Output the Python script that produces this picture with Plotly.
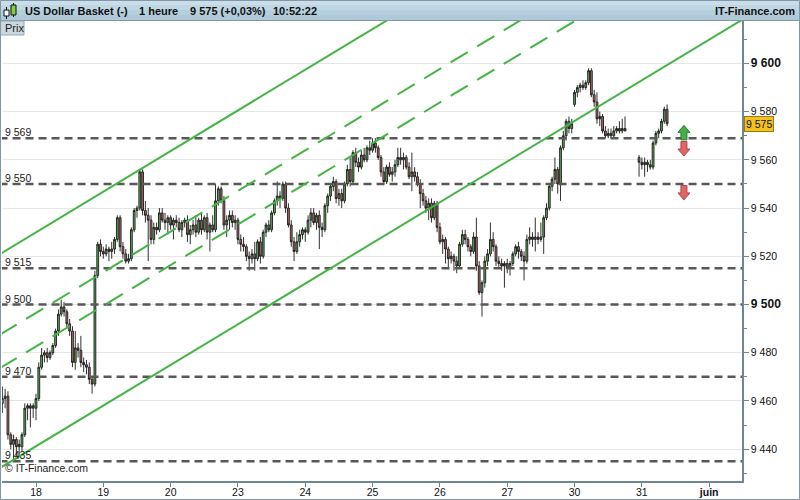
import plotly.graph_objects as go

# ---------------- data ----------------
# bar number = hours since 18 May 00:00 (weekends removed); hours 211-214 have no quotes
bars = [i for i in range(-12, 226) if not (211 <= i <= 214)]

open_ = [
    9459, 9461, 9462, 9446, 9442, 9444, 9441, 9441, 9446, 9457, 9458, 9457,
    9457, 9461, 9474, 9479, 9480, 9478, 9480, 9483, 9489, 9496, 9499, 9497,
    9492, 9489, 9476, 9482, 9481, 9476, 9475, 9474, 9469, 9467, 9512, 9525,
    9522, 9521, 9523, 9522, 9523, 9527, 9536, 9524, 9521, 9518, 9519, 9531,
    9539, 9540, 9555, 9539, 9537, 9535, 9527, 9532, 9531, 9538, 9535, 9534,
    9536, 9533, 9535, 9534, 9531, 9534, 9535, 9529, 9531, 9533, 9530, 9535,
    9531, 9536, 9530, 9533, 9531, 9543, 9548, 9543, 9533, 9535, 9537, 9534,
    9535, 9527, 9525, 9524, 9520, 9519, 9521, 9519, 9526, 9520, 9530, 9533,
    9531, 9538, 9543, 9545, 9544, 9550, 9540, 9533, 9526, 9522, 9526, 9529,
    9531, 9530, 9535, 9538, 9534, 9537, 9532, 9531, 9541, 9545, 9549, 9551,
    9544, 9546, 9543, 9550, 9556, 9551, 9563, 9559, 9557, 9562, 9560, 9565,
    9564, 9567, 9565, 9561, 9555, 9551, 9557, 9554, 9555, 9558, 9561, 9560,
    9561, 9557, 9553, 9555, 9553, 9550, 9546, 9543, 9540, 9542, 9536, 9542,
    9532, 9526, 9527, 9523, 9519, 9520, 9518, 9516, 9525, 9529, 9527, 9524,
    9522, 9528, 9516, 9505, 9509, 9518, 9521, 9527, 9524, 9518, 9517, 9516,
    9517, 9515, 9517, 9521, 9524, 9522, 9520, 9518, 9527, 9528, 9527, 9528,
    9527, 9528, 9536, 9540, 9549, 9552, 9556, 9550, 9565, 9570, 9576, 9573,
    9583, 9588, 9590, 9591, 9590, 9592, 9597, 9587, 9584, 9577, 9578, 9572,
    9570, 9571, 9570, 9572, 9573, 9572, 9573,
    9561, 9559, 9558, 9559, 9558, 9557, 9567, 9571, 9572, 9576, 9581,
]
high = [
    9466, 9465, 9464, 9447, 9446, 9445, 9444, 9447, 9459, 9459, 9459, 9459,
    9463, 9476, 9482, 9481, 9482, 9481, 9484, 9490, 9498, 9502, 9501, 9498,
    9494, 9491, 9489, 9484, 9487, 9478, 9477, 9476, 9470, 9514, 9526, 9527,
    9524, 9525, 9524, 9526, 9528, 9537, 9537, 9526, 9523, 9521, 9532, 9540,
    9541, 9556, 9556, 9543, 9540, 9537, 9534, 9534, 9540, 9540, 9538, 9537,
    9537, 9536, 9537, 9536, 9535, 9536, 9537, 9533, 9535, 9537, 9536, 9538,
    9537, 9538, 9534, 9537, 9550, 9549, 9549, 9545, 9537, 9539, 9539, 9537,
    9536, 9529, 9528, 9525, 9522, 9523, 9526, 9527, 9528, 9531, 9534, 9535,
    9539, 9544, 9551, 9547, 9551, 9551, 9542, 9535, 9528, 9530, 9531, 9532,
    9532, 9537, 9540, 9540, 9538, 9539, 9534, 9542, 9546, 9550, 9553, 9552,
    9548, 9548, 9551, 9558, 9561, 9564, 9565, 9561, 9564, 9565, 9566, 9568,
    9569, 9569, 9566, 9562, 9557, 9558, 9559, 9557, 9560, 9565, 9565, 9563,
    9562, 9559, 9563, 9557, 9555, 9552, 9548, 9545, 9544, 9544, 9543, 9543,
    9534, 9529, 9528, 9524, 9522, 9521, 9520, 9526, 9531, 9531, 9528, 9525,
    9530, 9536, 9518, 9510, 9520, 9523, 9534, 9530, 9525, 9520, 9519, 9518,
    9519, 9518, 9522, 9525, 9526, 9523, 9522, 9529, 9532, 9530, 9536, 9530,
    9534, 9537, 9542, 9550, 9553, 9561, 9557, 9566, 9572, 9577, 9578, 9577,
    9589, 9591, 9592, 9593, 9593, 9598, 9598, 9589, 9588, 9580, 9579, 9574,
    9573, 9573, 9574, 9574, 9576, 9577, 9578,
    9562, 9561, 9561, 9560, 9560, 9568, 9572, 9573, 9577, 9582, 9583,
]
low = [
    9455, 9457, 9444, 9440, 9436, 9437, 9437, 9439, 9445, 9452, 9449, 9453,
    9452, 9460, 9473, 9476, 9476, 9477, 9479, 9482, 9487, 9495, 9495, 9490,
    9487, 9474, 9473, 9478, 9474, 9472, 9471, 9467, 9463, 9466, 9511, 9520,
    9519, 9520, 9518, 9519, 9521, 9526, 9522, 9519, 9517, 9517, 9518, 9530,
    9536, 9539, 9537, 9534, 9518, 9525, 9525, 9529, 9530, 9534, 9531, 9529,
    9531, 9527, 9532, 9530, 9528, 9532, 9526, 9525, 9529, 9528, 9529, 9529,
    9530, 9527, 9522, 9530, 9530, 9541, 9542, 9531, 9528, 9531, 9532, 9531,
    9525, 9522, 9522, 9518, 9514, 9517, 9514, 9518, 9517, 9519, 9528, 9530,
    9530, 9537, 9541, 9540, 9543, 9538, 9532, 9524, 9518, 9521, 9524, 9527,
    9526, 9529, 9532, 9533, 9531, 9523, 9528, 9530, 9538, 9543, 9547, 9542,
    9541, 9540, 9542, 9549, 9549, 9550, 9557, 9555, 9556, 9559, 9559, 9562,
    9563, 9563, 9560, 9553, 9550, 9550, 9553, 9551, 9553, 9557, 9558, 9556,
    9556, 9552, 9547, 9551, 9549, 9540, 9541, 9538, 9535, 9534, 9535, 9530,
    9525, 9521, 9517, 9515, 9517, 9514, 9513, 9515, 9524, 9525, 9522, 9520,
    9521, 9514, 9504, 9495, 9507, 9516, 9520, 9522, 9516, 9515, 9514, 9507,
    9513, 9512, 9516, 9520, 9519, 9518, 9510, 9517, 9525, 9524, 9522, 9525,
    9526, 9521, 9535, 9539, 9547, 9550, 9546, 9543, 9564, 9568, 9571, 9571,
    9582, 9586, 9588, 9589, 9589, 9591, 9586, 9582, 9575, 9574, 9571, 9569,
    9569, 9569, 9569, 9571, 9571, 9571, 9572,
    9553, 9556, 9553, 9555, 9556, 9556, 9566, 9569, 9571, 9575, 9574,
]
close = [
    9461, 9462, 9446, 9442, 9444, 9441, 9442, 9446, 9457, 9458, 9457, 9458,
    9461, 9474, 9479, 9480, 9478, 9480, 9483, 9489, 9496, 9499, 9497, 9492,
    9489, 9476, 9482, 9481, 9476, 9475, 9474, 9469, 9467, 9512, 9525, 9522,
    9521, 9523, 9522, 9523, 9527, 9536, 9524, 9521, 9518, 9519, 9531, 9539,
    9540, 9555, 9539, 9537, 9535, 9527, 9532, 9531, 9538, 9535, 9534, 9536,
    9533, 9535, 9534, 9531, 9534, 9535, 9529, 9531, 9533, 9530, 9535, 9531,
    9536, 9530, 9533, 9531, 9543, 9548, 9543, 9533, 9535, 9537, 9534, 9535,
    9527, 9525, 9524, 9520, 9519, 9521, 9519, 9526, 9520, 9530, 9533, 9531,
    9538, 9543, 9545, 9544, 9550, 9540, 9533, 9526, 9522, 9526, 9529, 9531,
    9530, 9535, 9538, 9534, 9537, 9532, 9531, 9541, 9545, 9549, 9551, 9544,
    9546, 9543, 9550, 9556, 9551, 9563, 9559, 9557, 9562, 9560, 9565, 9564,
    9567, 9565, 9561, 9555, 9551, 9557, 9554, 9555, 9558, 9561, 9560, 9561,
    9557, 9553, 9555, 9553, 9550, 9546, 9543, 9540, 9542, 9536, 9542, 9532,
    9526, 9527, 9523, 9519, 9520, 9518, 9516, 9525, 9529, 9527, 9524, 9522,
    9528, 9516, 9505, 9509, 9518, 9521, 9527, 9524, 9518, 9517, 9516, 9517,
    9515, 9517, 9521, 9524, 9522, 9520, 9518, 9527, 9528, 9527, 9528, 9527,
    9528, 9536, 9540, 9549, 9552, 9556, 9550, 9565, 9570, 9576, 9573, 9575,
    9588, 9590, 9591, 9590, 9592, 9597, 9587, 9584, 9577, 9578, 9572, 9570,
    9571, 9570, 9572, 9573, 9572, 9573, 9572,
    9559, 9558, 9559, 9558, 9557, 9567, 9571, 9572, 9576, 9581, 9575,
]
assert len(bars) == len(open_) == len(high) == len(low) == len(close), (
    len(bars), len(open_), len(high), len(low), len(close))

day_ticks = [0, 24, 48, 72, 96, 120, 144, 168, 192, 216, 240]
day_labels = ["18", "19", "20", "23", "24", "25", "26", "27", "30", "31", "<b>juin</b>"]

price_ticks = [9440, 9460, 9480, 9500, 9520, 9540, 9560, 9580, 9600]
price_labels = ["9 440", "9 460", "9 480",
                "<span style='font-size:12px'><b>9 500</b></span>",
                "9 520", "9 540", "9 560", "9 580",
                "<span style='font-size:12px'><b>9 600</b></span>"]

levels = [9569, 9550, 9515, 9500, 9470, 9435]
level_labels = ["9 569", "9 550", "9 515", "9 500", "9 470", "9 435"]

span_x = [-13, 252]
channel_upper = [9520.8, 9707.0]
channel_mid1 = [9487.4, 9673.6]
channel_mid2 = [9473.5, 9659.7]
channel_lower = [9432.1, 9618.3]

signal_bar = 231
signal_up = [9571.2]
signal_down = [9564.7, 9546.5]

last_price = 9575
last_label = "9 575"

# ---------------- geometry / style ----------------
FONT = "Liberation Sans, Arial, sans-serif"
W, H = 800, 500
ML, MR, MT, MB = 2, 58, 21, 19
PW, PH = W - ML - MR, H - MT - MB
X_RANGE = [-12.12, 251.7]
Y_RANGE = [9426.8, 9617.6]
PPX = PW / (X_RANGE[1] - X_RANGE[0])   # pixels per bar
PPY = PH / (Y_RANGE[1] - Y_RANGE[0])   # pixels per price unit
AXC = "#6f8890"
GREEN = "#44b444"


def PX(x):
    return (x - ML) / PW


def PY(y):
    return (H - MB - y) / PH


fig = go.Figure()

fig.add_trace(go.Candlestick(
    x=bars, open=open_, high=high, low=low, close=close,
    increasing=dict(fillcolor="#5aab5a", line=dict(color="#1a1a1a", width=0.9)),
    decreasing=dict(fillcolor="#b56767", line=dict(color="#1a1a1a", width=0.9)),
    whiskerwidth=0, showlegend=False, hoverinfo="skip"))

for lv in levels:
    fig.add_trace(go.Scatter(x=span_x, y=[lv, lv], mode="lines",
                             line=dict(color="#585858", width=2.5, dash="8px,5px"),
                             showlegend=False, hoverinfo="skip"))

for vals, dash in [(channel_upper, "solid"), (channel_mid1, "20px,11px"),
                   (channel_mid2, "20px,11px"), (channel_lower, "solid")]:
    fig.add_trace(go.Scatter(x=span_x, y=vals, mode="lines",
                             line=dict(color=GREEN, width=2, dash=dash),
                             showlegend=False, hoverinfo="skip"))

# signal arrows (polygons in pixel offsets around each level)
up_shape = [(-6, 0.5), (0, 7.5), (6, 0.5), (3, 0.5), (3, -7), (-3, -7), (-3, 0.5), (-6, 0.5)]


def arrow(level, direction, fill, edge):
    xs, ys = [], []
    for dx, dy in up_shape:
        xs.append(signal_bar + dx / PPX)
        ys.append(level + direction * dy / PPY)
    fig.add_trace(go.Scatter(x=xs, y=ys, mode="lines", fill="toself",
                             fillcolor=fill, line=dict(color=edge, width=1),
                             showlegend=False, hoverinfo="skip"))


for lv in signal_up:
    arrow(lv, 1, "#45b045", "#2c7a2c")
for lv in signal_down:
    arrow(lv, -1, "#e26666", "#b04545")

shapes = []
# header gradient bands
bands = [(0, 5, "#cadde8"), (5, 10, "#bfd6e3"), (10, 15, "#b6cfdd"), (15, 20.5, "#afc9d8")]
for y0, y1, c in bands:
    shapes.append(dict(type="rect", xref="paper", yref="paper",
                       x0=PX(0), x1=PX(W), y0=PY(y1), y1=PY(y0),
                       fillcolor=c, line=dict(width=0), layer="above"))
shapes.append(dict(type="line", xref="paper", yref="paper",
                   x0=PX(0), x1=PX(W), y0=PY(20.5), y1=PY(20.5),
                   line=dict(color="#7f99a6", width=1), layer="above"))
# header candle icon
shapes += [
    dict(type="line", xref="paper", yref="paper", x0=PX(6.5), x1=PX(6.5), y0=PY(19), y1=PY(7),
         line=dict(color="#111", width=1), layer="above"),
    dict(type="rect", xref="paper", yref="paper", x0=PX(4), x1=PX(9), y0=PY(16), y1=PY(10),
         fillcolor="#ffffff", line=dict(color="#111", width=1), layer="above"),
    dict(type="line", xref="paper", yref="paper", x0=PX(13.5), x1=PX(13.5), y0=PY(17), y1=PY(3),
         line=dict(color="#111", width=1), layer="above"),
    dict(type="rect", xref="paper", yref="paper", x0=PX(11), x1=PX(16), y0=PY(15), y1=PY(5),
         fillcolor="#7fd03c", line=dict(color="#111", width=1), layer="above"),
]
# "Prix" tab
shapes.append(dict(type="rect", xref="paper", yref="paper",
                   x0=PX(0.5), x1=PX(24), y0=PY(35), y1=PY(21),
                   fillcolor="#cbd8e0", line=dict(color="#97aab5", width=1), layer="above"))
# figure frame
shapes.append(dict(type="rect", xref="paper", yref="paper",
                   x0=PX(0.5), x1=PX(799.5), y0=PY(499.5), y1=PY(0.5),
                   line=dict(color="#7f99a6", width=1), fillcolor="rgba(0,0,0,0)", layer="above"))

annotations = []
hdr_font = dict(family=FONT, size=11, color="#111111")
for txt, x in [("US Dollar Basket (-)", 23), ("1 heure", 137),
               ("9 575 (+0,03%)", 188), ("10:52:22", 271)]:
    annotations.append(dict(text="<b>%s</b>" % txt, xref="paper", yref="paper",
                            x=PX(x), y=PY(11), xanchor="left", yanchor="middle",
                            showarrow=False, font=hdr_font))
annotations.append(dict(text="<b>IT-Finance.com</b>", xref="paper", yref="paper",
                        x=PX(797), y=PY(11), xanchor="right", yanchor="middle",
                        showarrow=False, font=hdr_font))
annotations.append(dict(text="Prix", xref="paper", yref="paper", x=PX(3), y=PY(28),
                        xanchor="left", yanchor="middle", showarrow=False,
                        font=dict(family=FONT, size=11, color="#222")))
for lv, lab in zip(levels, level_labels):
    annotations.append(dict(text=lab, xref="paper", yref="y", x=PX(3), y=lv,
                            xanchor="left", yanchor="bottom", yshift=-2, showarrow=False,
                            font=dict(family=FONT, size=10.5, color="#222")))
annotations.append(dict(text="© IT-Finance.com", xref="paper", yref="paper",
                        x=PX(3), y=PY(468), xanchor="left", yanchor="middle",
                        showarrow=False, font=dict(family=FONT, size=10.5, color="#222")))
annotations.append(dict(text=last_label, xref="paper", yref="y", x=1, y=last_price,
                        xanchor="left", yanchor="middle", xshift=2, showarrow=False,
                        bgcolor="#f4c21c", bordercolor="#9a7a12", borderwidth=1, borderpad=1,
                        font=dict(family=FONT, size=10.5, color="#111")))

fig.update_layout(
    width=W, height=H,
    margin=dict(l=ML, r=MR, t=MT, b=MB, pad=0, autoexpand=False),
    paper_bgcolor="white", plot_bgcolor="white",
    font=dict(family=FONT, size=10.5, color="#111"),
    showlegend=False, boxgap=0.08,
    shapes=shapes, annotations=annotations,
    xaxis=dict(range=X_RANGE, tickmode="array", tickvals=day_ticks, ticktext=day_labels,
               ticks="outside", ticklen=4, tickcolor=AXC, showline=True, linecolor=AXC,
               linewidth=1.5, showgrid=False, zeroline=False, automargin=False,
               ticklabelstandoff=-3,
               rangeslider=dict(visible=False), fixedrange=True,
               tickfont=dict(family=FONT, size=10.5, color="#111")),
    yaxis=dict(range=Y_RANGE, side="right", tickmode="array", tickvals=price_ticks,
               ticktext=price_labels, ticks="outside", ticklen=5, tickcolor=AXC,
               showline=True, linecolor=AXC, linewidth=1.5, showgrid=True,
               gridcolor="#e6e6e6", gridwidth=1, zeroline=False, fixedrange=True,
               automargin=False,
               minor=dict(tickmode="linear", tick0=0, dtick=10, ticks="outside",
                          ticklen=3, tickcolor=AXC, showgrid=False),
               tickfont=dict(family=FONT, size=10.5, color="#111")),
)

fig.write_html("out.html", config={"displayModeBar": False},
               post_script="document.body.style.margin='0';document.body.style.padding='0';")
